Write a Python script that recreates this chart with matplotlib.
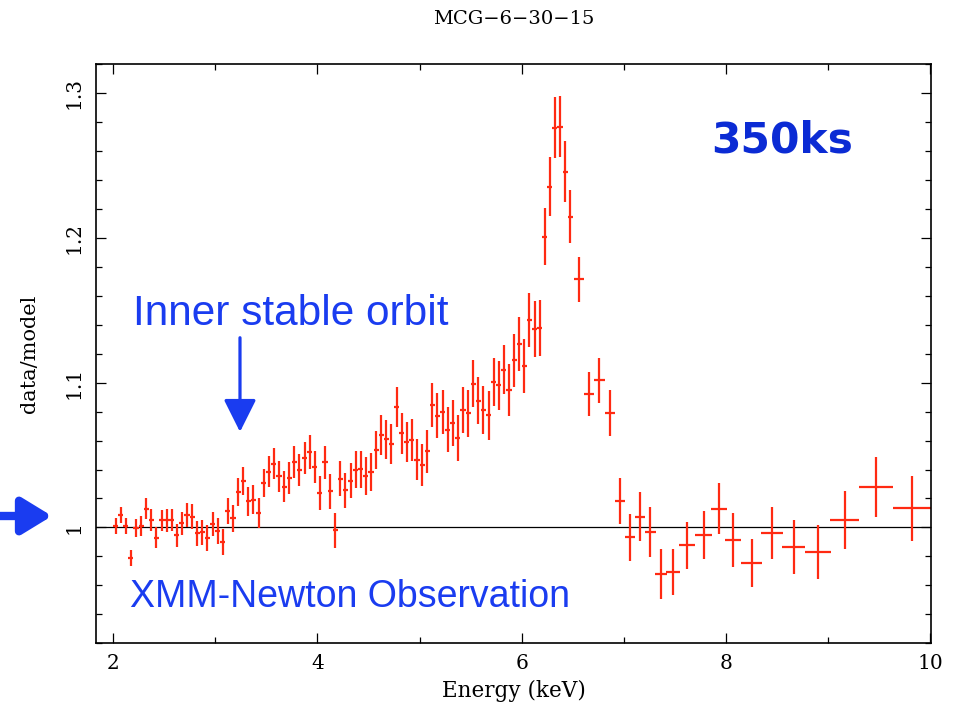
import matplotlib
matplotlib.use("Agg")
import matplotlib.pyplot as plt
from matplotlib.ticker import MultipleLocator, FixedLocator, FuncFormatter

# narrow bins, 2.0 - 6.5 keV (0.05 keV wide)
energy_narrow = [
    2.025, 2.075, 2.125, 2.175, 2.225, 2.275, 2.325, 2.375, 2.425, 2.475,
    2.525, 2.575, 2.625, 2.675, 2.725, 2.775, 2.825, 2.875, 2.925, 2.975,
    3.025, 3.075, 3.125, 3.175, 3.225, 3.275, 3.325, 3.375, 3.425, 3.475,
    3.525, 3.575, 3.625, 3.675, 3.725, 3.775, 3.825, 3.875, 3.925, 3.975,
    4.025, 4.075, 4.125, 4.175, 4.225, 4.275, 4.325, 4.375, 4.425, 4.475,
    4.525, 4.575, 4.625, 4.675, 4.725, 4.775, 4.825, 4.875, 4.925, 4.975,
    5.025, 5.075, 5.125, 5.175, 5.225, 5.275, 5.325, 5.375, 5.425, 5.475,
    5.525, 5.575, 5.625, 5.675, 5.725, 5.775, 5.825, 5.875, 5.925, 5.975,
    6.025, 6.075, 6.125, 6.175, 6.225, 6.275, 6.325, 6.375, 6.425, 6.475,
]
ratio_narrow = [
    1.0010, 1.0085, 1.0010, 0.9790, 0.9995, 1.0010, 1.0129, 1.0050, 0.9929, 1.0050,
    1.0050, 1.0050, 0.9945, 1.0028, 1.0083, 1.0074, 0.9960, 0.9968, 0.9926, 1.0023,
    0.9977, 0.9899, 1.0113, 1.0062, 1.0244, 1.0320, 1.0180, 1.0193, 1.0099, 1.0308,
    1.0384, 1.0441, 1.0354, 1.0280, 1.0340, 1.0453, 1.0395, 1.0480, 1.0520, 1.0416,
    1.0239, 1.0450, 1.0250, 0.9979, 1.0336, 1.0257, 1.0324, 1.0400, 1.0402, 1.0354,
    1.0384, 1.0536, 1.0637, 1.0609, 1.0575, 1.0832, 1.0650, 1.0589, 1.0602, 1.0469,
    1.0430, 1.0526, 1.0846, 1.0772, 1.0795, 1.0674, 1.0722, 1.0616, 1.0809, 1.0788,
    1.0993, 1.0876, 1.0812, 1.0774, 1.1002, 1.0981, 1.1090, 1.0952, 1.1154, 1.1267,
    1.1117, 1.1434, 1.1372, 1.1379, 1.2009, 1.2354, 1.2760, 1.2768, 1.2457, 1.2147,
]
err_narrow = [
    0.0053, 0.0053, 0.0055, 0.0055, 0.0064, 0.0071, 0.0072, 0.0075, 0.0074, 0.0072,
    0.0078, 0.0076, 0.0077, 0.0080, 0.0083, 0.0088, 0.0086, 0.0086, 0.0091, 0.0085,
    0.0090, 0.0090, 0.0092, 0.0092, 0.0098, 0.0095, 0.0098, 0.0099, 0.0101, 0.0098,
    0.0107, 0.0105, 0.0106, 0.0107, 0.0110, 0.0111, 0.0111, 0.0109, 0.0115, 0.0109,
    0.0118, 0.0114, 0.0120, 0.0120, 0.0120, 0.0122, 0.0123, 0.0128, 0.0129, 0.0130,
    0.0132, 0.0132, 0.0137, 0.0136, 0.0138, 0.0141, 0.0140, 0.0140, 0.0146, 0.0143,
    0.0145, 0.0147, 0.0150, 0.0154, 0.0152, 0.0155, 0.0159, 0.0160, 0.0159, 0.0163,
    0.0162, 0.0160, 0.0168, 0.0167, 0.0166, 0.0170, 0.0170, 0.0180, 0.0184, 0.0184,
    0.0186, 0.0186, 0.0192, 0.0193, 0.0198, 0.0202, 0.0210, 0.0212, 0.0209, 0.0180,
]

# wider bins above 6.5 keV
energy_wide = [6.56, 6.66, 6.76, 6.86, 6.96, 7.06, 7.16, 7.26, 7.36, 7.48, 7.62,
               7.78, 7.93, 8.07, 8.25, 8.45, 8.66, 8.90, 9.16, 9.47, 9.82]
halfwidth_wide = [0.05, 0.05, 0.05, 0.05, 0.05, 0.05, 0.05, 0.05, 0.06, 0.07, 0.08,
                  0.08, 0.08, 0.08, 0.105, 0.105, 0.115, 0.125, 0.14, 0.165, 0.19]
ratio_wide = [1.1715, 1.0922, 1.1016, 1.0790, 1.0182, 0.9933, 1.0073, 0.9968, 0.9680,
              0.9692, 0.9876, 0.9947, 1.0129, 0.9913, 0.9754, 0.9959, 0.9864, 0.9832,
              1.0051, 1.0280, 1.0131]
err_wide = [0.0155, 0.0152, 0.0156, 0.0159, 0.0161, 0.0163, 0.0170, 0.0172, 0.0172,
            0.0161, 0.0161, 0.0166, 0.0177, 0.0184, 0.0166, 0.0179, 0.0188, 0.0188,
            0.0198, 0.0207, 0.0225]

RED = "#ff2a12"
BLUE = "#0b2bd4"
BLUE_LIGHT = "#1a3cf0"

plt.rcParams["font.family"] = ["DejaVu Serif"]

fig = plt.figure(figsize=(9.6, 7.06), dpi=100)
ax = fig.add_axes([0.1, 0.0888, 0.8698, 0.8205])

ax.axhline(1.0, color="black", lw=0.9, zorder=1)

ax.errorbar(energy_narrow, ratio_narrow, yerr=err_narrow, xerr=0.025,
            fmt="none", ecolor=RED, elinewidth=1.6, capsize=0, zorder=2)
ax.errorbar(energy_wide, ratio_wide, yerr=err_wide, xerr=halfwidth_wide,
            fmt="none", ecolor=RED, elinewidth=1.6, capsize=0, zorder=2)

ax.set_xlim(1.834, 10.005)
ax.set_ylim(0.92, 1.32)

ax.xaxis.set_major_locator(FixedLocator([2, 4, 6, 8, 10]))
ax.xaxis.set_minor_locator(FixedLocator([3, 5, 7, 9]))
ax.yaxis.set_major_locator(FixedLocator([1.0, 1.1, 1.2, 1.3]))
ax.yaxis.set_minor_locator(MultipleLocator(0.02))
ax.yaxis.set_major_formatter(FuncFormatter(lambda v, p: "%g" % round(v, 2)))

ax.tick_params(which="both", direction="in", top=True, right=True, width=0.9,
               labelsize=14.5)
ax.tick_params(which="major", length=7.5)
ax.tick_params(which="minor", length=4)
ax.tick_params(axis="x", pad=8)
ax.tick_params(axis="y", pad=9, labelrotation=90)
for lab in ax.get_yticklabels():
    lab.set_va("center")

for s in ax.spines.values():
    s.set_linewidth(1.2)

ax.set_xlabel("Energy (keV)", fontsize=15.5, labelpad=5)
ax.set_ylabel("data/model", fontsize=15, labelpad=18)
ax.set_title("MCG\u22126\u221230\u221215", fontsize=14, pad=29)

# overlay annotations
fig.text(0.7406, 0.7847, "350ks", color=BLUE, fontsize=30.5,
         fontweight="bold", family=["DejaVu Sans"], va="baseline")
fig.text(0.1385, 0.5397, "Inner stable orbit", color=BLUE_LIGHT, fontsize=30.5,
         family=["Liberation Sans"], va="baseline")
fig.text(0.1354, 0.1402, "XMM-Newton Observation", color=BLUE_LIGHT,
         fontsize=27, family=["Liberation Sans"], va="baseline")

ax.annotate("", xy=(3.243, 1.066), xytext=(3.243, 1.131),
            arrowprops=dict(arrowstyle="-|>,head_length=1.0,head_width=0.5",
                            color=BLUE_LIGHT, lw=2.3, mutation_scale=20,
                            shrinkA=0, shrinkB=0))
ax.annotate("", xy=(52, 190), xycoords="figure pixels",
            xytext=(0, 190), textcoords="figure pixels",
            arrowprops=dict(arrowstyle="-|>,head_length=0.9,head_width=0.55",
                            color=BLUE_LIGHT, lw=6, mutation_scale=20,
                            shrinkA=0, shrinkB=0),
            annotation_clip=False)

fig.savefig("out.png", dpi=100)
